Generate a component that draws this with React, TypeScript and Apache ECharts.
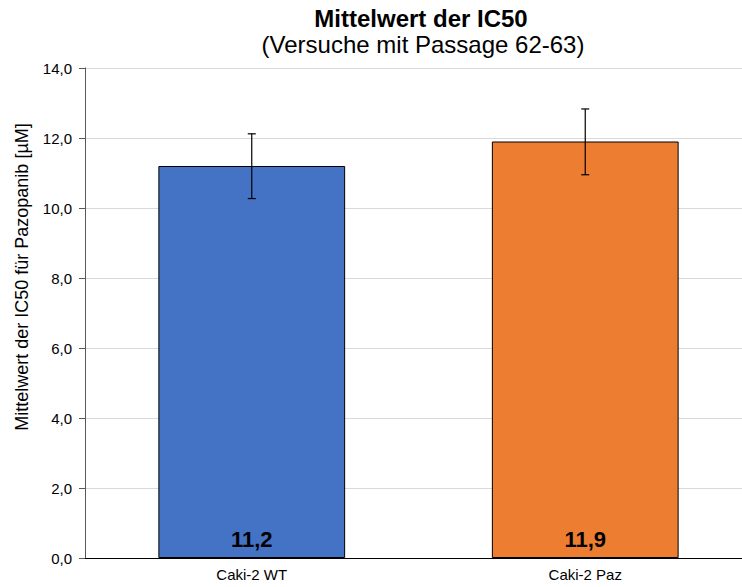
import React, { useEffect, useRef } from "react";
import * as echarts from "echarts";

const categories = ["Caki-2 WT", "Caki-2 Paz"];
const means = [11.2, 11.9];
const errLow = [10.27, 10.95];
const errHigh = [12.12, 12.83];
const barColors = ["#4472C4", "#ED7D31"];
const yTicks = [0, 2, 4, 6, 8, 10, 12, 14];

export default function App() {
  const ref = useRef<HTMLDivElement>(null);
  useEffect(() => {
    if (!ref.current) return;
    const chart = echarts.init(ref.current, null, { renderer: "svg" });
    const font = "Liberation Sans, Arial, sans-serif";
    chart.setOption({
      animation: false,
      backgroundColor: "#ffffff",
      title: [
        {
          text: "Mittelwert der IC50",
          left: 421,
          top: 6,
          padding: 0,
          textAlign: "center",
          textStyle: { fontFamily: font, fontSize: 24, fontWeight: "bold", color: "#000" },
        },
        {
          text: "(Versuche mit Passage 62-63)",
          left: 423,
          top: 32,
          padding: 0,
          textAlign: "center",
          textStyle: { fontFamily: font, fontSize: 24, fontWeight: "normal", color: "#000" },
        },
      ],
      graphic: [
        {
          type: "text",
          x: 22,
          y: 277,
          rotation: Math.PI / 2,
          style: {
            text: "Mittelwert der IC50 für Pazopanib [µM]",
            fontFamily: font,
            fontSize: 18,
            fill: "#000",
            align: "center",
            verticalAlign: "middle",
          },
        },
      ],
      grid: { left: 85, top: 68, right: 0, height: 490, containLabel: false },
      xAxis: {
        type: "category",
        data: categories,
        axisLine: { lineStyle: { color: "#000", width: 1 } },
        axisTick: { show: false },
        axisLabel: { fontFamily: font, fontSize: 15, color: "#000", margin: 9 },
      },
      yAxis: {
        type: "value",
        min: 0,
        max: 14,
        interval: 2,
        axisLine: { show: true, lineStyle: { color: "#595959", width: 1 } },
        axisTick: { show: true, length: 6, lineStyle: { color: "#595959" } },
        axisLabel: {
          fontFamily: font,
          fontSize: 15,
          color: "#000",
          margin: 13,
          formatter: (v: number) => (yTicks.includes(v) ? v.toFixed(1).replace(".", ",") : ""),
        },
        splitLine: { lineStyle: { color: "#d9d9d9", width: 1 } },
      },
      series: [
        {
          type: "bar",
          barWidth: "56%",
          data: means.map((v, i) => ({
            value: v,
            itemStyle: { color: barColors[i], borderColor: "#000", borderWidth: 1 },
          })),
          label: {
            show: true,
            position: "insideBottom",
            distance: 8,
            fontFamily: font,
            fontSize: 22,
            fontWeight: "bold",
            color: "#000",
            formatter: (p: any) => String(p.value.toFixed(1)).replace(".", ","),
          },
        },
        {
          type: "custom",
          data: categories.map((_, i) => [i, errLow[i], errHigh[i]]),
          z: 10,
          renderItem: (params: any, api: any) => {
            const x = api.value(0);
            const lo = api.coord([x, api.value(1)]);
            const hi = api.coord([x, api.value(2)]);
            const cap = 4;
            const style = { stroke: "#000", lineWidth: 1.2 };
            return {
              type: "group",
              children: [
                { type: "line", shape: { x1: lo[0], y1: lo[1], x2: hi[0], y2: hi[1] }, style },
                { type: "line", shape: { x1: hi[0] - cap, y1: hi[1], x2: hi[0] + cap, y2: hi[1] }, style },
                { type: "line", shape: { x1: lo[0] - cap, y1: lo[1], x2: lo[0] + cap, y2: lo[1] }, style },
              ],
            };
          },
        },
      ],
    });
    return () => chart.dispose();
  }, []);
  return (
    <div
      style={{
        position: "fixed",
        left: 0,
        top: 0,
        width: 742,
        height: 587,
        overflow: "hidden",
        background: "#fff",
      }}
    >
      <div ref={ref} style={{ width: 752, height: 587 }} />
    </div>
  );
}
